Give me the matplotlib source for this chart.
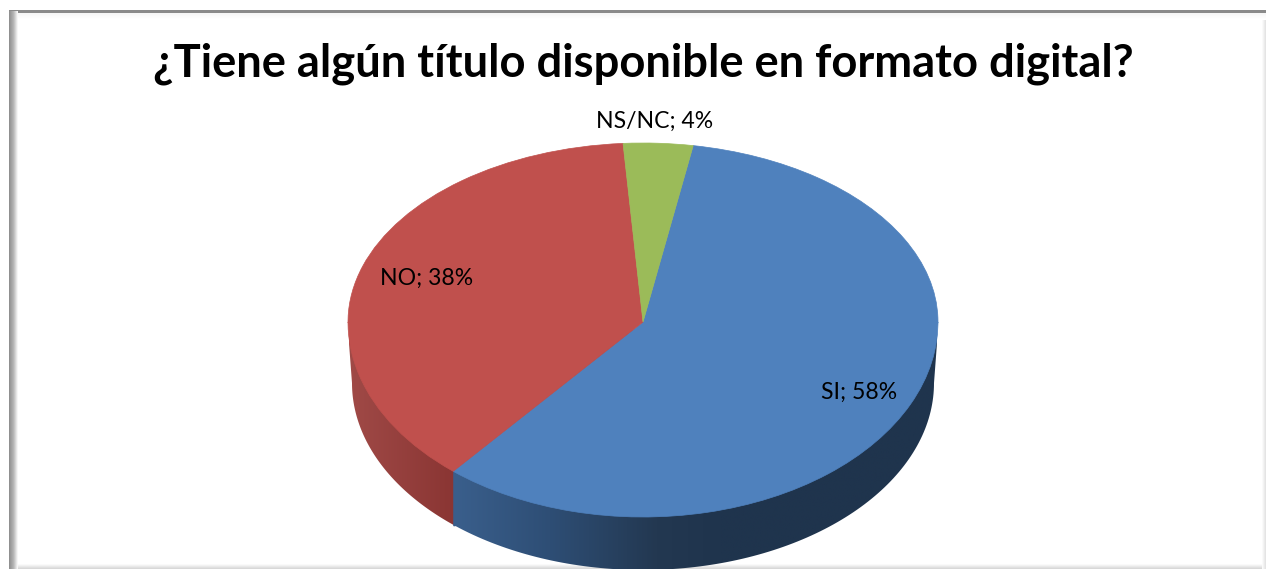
# 3D looking pie chart, flat pie on top of a shaded wall
import numpy as np
import matplotlib
matplotlib.use('Agg')
import matplotlib.pyplot as plt
from matplotlib.colors import LinearSegmentedColormap
from matplotlib.patches import Polygon, Rectangle
from matplotlib.transforms import Affine2D

title = '¿Tiene algún título disponible en formato digital?'
categories = ['SI', 'NO', 'NS/NC']
values = [58.4, 37.8, 3.8]
colors = ['#4F81BD', '#C0504D', '#9BBB59']
label_pos = [(859, 392), (427, 278), (655, 121)]

plt.rcParams['font.family'] = ['Lato', 'DejaVu Sans']

# pixel geometry of the pie
cx, cy = 643, 322
rx, ry_up, ry_down = 295, 179, 195
ell_cy, ell_ry = 330, 187
wall_rx, wall_cy = 291, 383
start = 80.2


def wall_arc(a1, a2):
    # piece of the lower rim between two pie angles
    t = np.radians(np.linspace(a1, a2, 120))
    return np.column_stack([cx + wall_rx*np.cos(t), wall_cy - ell_ry*np.sin(t)])


def gradient(ax, x0, x1, y0, y1, stops, clip=None, vertical=False, z=1):
    cmap = LinearSegmentedColormap.from_list('g', stops)
    g = np.linspace(0, 1, 256).reshape(1, -1)
    if vertical:
        g = g.T
    im = ax.imshow(g, cmap=cmap, extent=(x0, x1, y1, y0), aspect='auto',
                   zorder=z, interpolation='bilinear')
    if clip is not None:
        im.set_clip_path(clip)
    return im


fig = plt.figure(figsize=(12.66, 5.69), dpi=100)
ax = fig.add_axes([0, 0, 1, 1])

# top slices, upper half and lower half have a different height
for ry, y0, y1 in [(ry_up, 0, cy + 0.5), (ry_down, cy, 569)]:
    wedges, _ = ax.pie(values, colors=colors, startangle=start, counterclock=False,
                       wedgeprops={'linewidth': 0.5})
    for w, c in zip(wedges, colors):
        w.set_edgecolor(c)
        w.set_transform(Affine2D().scale(rx, -ry).translate(cx, cy) + ax.transData)
        w.set_zorder(3)
        # pie turns clipping off
        w.set_clip_on(True)
        w.set_clip_path(Polygon([(0, y0), (1266, y0), (1266, y1), (0, y1)],
                                transform=ax.transData))

ax.set_aspect('auto')

# walls below the pie, angles come from the values
join = start - 360*values[0]/sum(values) + 360
join_x = cx + rx*np.cos(np.radians(join))
join_y = wall_arc(join, join)[0, 1]

# blue wall, front and right side
pts = np.vstack([[[join_x, ell_cy], [join_x, join_y]], wall_arc(join, 360), [[cx + rx, ell_cy]]])
blue_clip = Polygon(pts, transform=ax.transData)
gradient(ax, join_x, 937, 300, 580,
         [(0, '#3A5F8C'), (0.2, '#2E4E75'), (0.42, '#233851'), (0.55, '#1F344D'), (1, '#1F344D')],
         clip=blue_clip, z=2)

# red wall, left side, runs 1px under the blue one
pts = np.vstack([[[cx - rx, ell_cy]], wall_arc(180, join), [[join_x + 1, join_y], [join_x + 1, ell_cy]]])
red_clip = Polygon(pts, transform=ax.transData)
gradient(ax, 349, join_x + 1, 300, 580, [(0, '#A04A47'), (1, '#8A3533')], clip=red_clip, z=1.5)

# picture frame
ax.add_patch(Rectangle((9, 10), 1257, 2.5, color='#8A8A8A', lw=0, zorder=4))
gradient(ax, 12, 1266, 12.5, 19, ['#F4F4F4', '#FFFFFF'], vertical=True, z=1)
gradient(ax, 9, 18, 11, 569, ['#8C8C8C', '#B4B4B4', '#FFFFFF'], z=4)
gradient(ax, 18, 1266, 564, 569, ['#FFFFFF', '#D4D4D4'], vertical=True, z=1)
gradient(ax, 1262, 1266, 20, 569, ['#FFFFFF', '#E0E0E0'], z=1)

# texts
ax.text(643, 64, title, fontsize=32.7, fontweight='bold', color='black',
        ha='center', va='center', zorder=6)
for name, val, pos in zip(categories, values, label_pos):
    ax.text(pos[0], pos[1], '%s; %.0f%%' % (name, val), fontsize=16.6, color='black',
            ha='center', va='center', zorder=6)

ax.set_xlim(0, 1266)
ax.set_ylim(569, 0)
ax.axis('off')

fig.savefig('out.png', dpi=100, facecolor='white')
